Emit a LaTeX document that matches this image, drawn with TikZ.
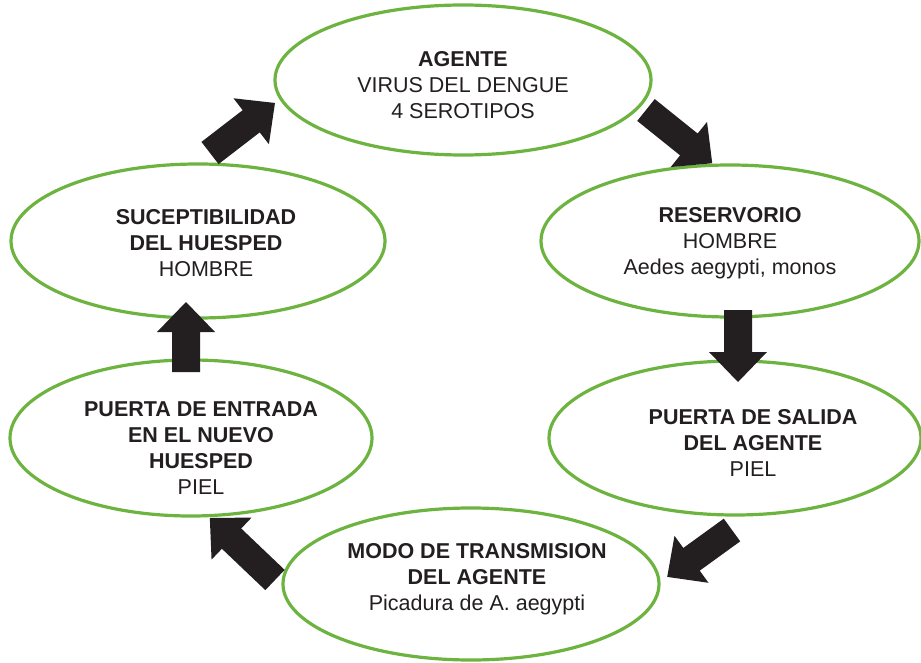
\documentclass[tikz,border=0pt]{standalone}
\usepackage{fontspec}
\setmainfont{Liberation Sans}
\definecolor{ringgreen}{HTML}{6DB33F}
\definecolor{inkdark}{HTML}{231F20}
\newcommand{\blockarrow}[5]{%
  \begin{scope}[shift={(#2,#3)}, rotate=#4]
    \fill[arrowfill] (0,-14) -- ({#5-30},-14) -- ({#5-30},-29) -- (#5,0)
      -- ({#5-30},29) -- ({#5-30},14) -- (0,14) -- cycle;
    \coordinate (#1) at (#5,0);
  \end{scope}}
\begin{document}
\begin{tikzpicture}[x=1pt,y=1pt,
  ring/.style={draw=ringgreen, line width=3.2pt, fill=white},
  arrowfill/.style={fill=inkdark},
  label/.style={align=center, text=inkdark, font=\fontsize{21.5}{26}\selectfont}]
\useasboundingbox (0,0) rectangle (921,-663);
% ellipses
\draw[ring] (463,-80) ellipse [x radius=188, y radius=75];
\draw[ring] (730,-241) ellipse [x radius=189, y radius=76];
\draw[ring] (735,-438) ellipse [x radius=186, y radius=77];
\draw[ring] (471,-584) ellipse [x radius=188, y radius=76];
\draw[ring] (191,-438) ellipse [x radius=181, y radius=78];
\draw[ring] (198,-241) ellipse [x radius=187, y radius=77];
% texts
\node[label] (agente) at (463,-85) {\textbf{AGENTE}\\VIRUS DEL DENGUE\\4 SEROTIPOS};
\node[label] (reserv) at (730,-243) {\textbf{RESERVORIO}\\HOMBRE\\Aedes aegypti, monos};
\node[label] (salida) at (753,-443) {\textbf{PUERTA DE SALIDA}\\\textbf{DEL AGENTE}\\PIEL};
\node[label] (modo) at (477,-579) {\textbf{MODO DE TRANSMISION}\\\textbf{DEL AGENTE}\\Picadura de A. aegypti};
\node[label] (entrada) at (201,-448) {\textbf{PUERTA DE ENTRADA}\\\textbf{EN EL NUEVO}\\\textbf{HUESPED}\\PIEL};
\node[label] (sucep) at (206,-243) {\textbf{SUCEPTIBILIDAD}\\\textbf{DEL HUESPED}\\HOMBRE};
% block arrows
\blockarrow{a1}{210}{-153}{37.6}{82}
\blockarrow{a2}{646}{-110}{-38.8}{85}
\blockarrow{a3}{738}{-310}{-90}{72}
\blockarrow{a4}{732}{-530}{-144.1}{80}
\blockarrow{a5}{275}{-580}{136.4}{90}
\blockarrow{a6}{186}{-372}{90}{70}
\end{tikzpicture}
\end{document}
